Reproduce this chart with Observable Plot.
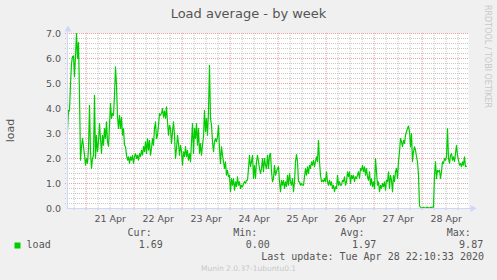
<!DOCTYPE html>
<html><head><meta charset="utf-8">
<script src="https://cdn.jsdelivr.net/npm/d3@7"></script>
<script src="https://cdn.jsdelivr.net/npm/@observablehq/plot@0.6"></script>
<style>
html,body{margin:0;padding:0;background:#f0f0f0;}
svg{display:block;}
</style>
</head><body>
<div id="chart"></div>
<script>
// ---- data ----
const startTime = Date.UTC(2020, 3, 20, 14, 40); // first sample
const stepMinutes = 30;
const loadValues = [
  3.08, 3.93, 3.9, 5.0, 5.8, 6.08, 6.1, 5.28, 6.08, 7.0,
  6.0, 6.65, 4.5, 1.93, 2.48, 2.8, 2.48, 2.13, 1.73, 2.0,
  1.8, 2.4, 4.13, 2.27, 1.6, 2.0, 2.13, 4.53, 2.0, 2.93,
  2.27, 2.67, 3.4, 2.8, 2.2, 2.93, 2.53, 3.2, 2.8, 3.47,
  2.67, 2.48, 3.33, 4.2, 3.6, 3.8, 3.73, 4.53, 5.67, 4.93,
  3.65, 3.2, 3.73, 3.2, 3.65, 2.93, 3.2, 2.53, 2.48, 2.13,
  1.93, 2.07, 1.8, 2.07, 1.93, 2.13, 1.8, 2.07, 2.2, 2.0,
  2.13, 1.93, 2.2, 2.07, 2.33, 2.13, 2.48, 2.27, 2.67, 2.2,
  2.8, 2.33, 2.73, 2.13, 2.4, 2.8, 2.53, 3.2, 3.47, 2.8,
  2.93, 3.33, 3.8, 3.73, 3.8, 4.0, 3.65, 3.9, 3.6, 4.07,
  3.47, 2.93, 3.33, 3.2, 2.6, 3.07, 3.47, 2.93, 2.0, 2.4,
  2.93, 2.6, 2.13, 2.53, 2.27, 1.73, 2.27, 2.07, 2.48, 2.07,
  2.33, 1.93, 2.2, 1.87, 2.67, 3.4, 2.2, 3.2, 2.8, 3.4,
  2.53, 3.2, 2.2, 2.6, 2.13, 2.53, 2.87, 3.93, 3.07, 3.6,
  2.93, 3.87, 5.73, 3.6, 3.33, 2.67, 2.27, 2.67, 2.8, 2.67,
  2.87, 3.33, 2.4, 1.8, 2.47, 2.13, 1.87, 1.6, 1.87, 1.33,
  1.53, 1.27, 1.33, 0.67, 1.2, 0.93, 1.2, 0.73, 1.07, 0.87,
  1.27, 0.93, 1.07, 0.8, 0.93, 0.87, 1.0, 1.07, 1.0, 1.13,
  1.13, 1.6, 2.13, 1.67, 1.87, 2.13, 1.2, 1.73, 1.2, 1.87,
  2.13, 1.87, 1.6, 1.4, 1.6, 2.0, 1.47, 2.0, 1.73, 1.6,
  2.13, 1.6, 2.13, 2.2, 1.47, 1.07, 1.2, 1.73, 1.33, 1.47,
  1.6, 1.67, 1.07, 0.67, 1.13, 0.93, 1.13, 0.8, 1.07, 0.87,
  1.33, 0.93, 1.4, 1.07, 0.93, 1.2, 0.67, 1.07, 1.87, 2.16,
  1.87, 1.07, 1.07, 0.93, 1.0, 0.93, 0.93, 1.27, 1.6, 1.33,
  1.67, 1.4, 1.73, 1.6, 1.87, 1.73, 1.93, 1.67, 1.87, 2.07,
  1.87, 2.73, 1.87, 1.33, 1.07, 1.13, 1.07, 1.2, 1.07, 1.47,
  1.07, 0.93, 1.13, 0.93, 1.07, 0.8, 0.93, 0.67, 0.87, 0.8,
  1.33, 0.93, 1.07, 0.93, 0.93, 1.13, 1.07, 1.27, 0.93, 1.07,
  1.47, 1.27, 1.47, 1.0, 1.33, 1.2, 1.33, 1.07, 1.27, 1.2,
  1.33, 1.47, 1.2, 1.6, 1.53, 1.73, 1.47, 1.67, 1.33, 1.6,
  1.27, 1.13, 1.47, 0.93, 1.2, 0.87, 1.07, 0.8, 2.0, 1.47,
  0.93, 1.07, 0.67, 0.93, 0.8, 1.0, 0.87, 1.07, 0.73, 1.13,
  1.07, 1.47, 0.8, 1.33, 1.13, 0.67, 1.33, 1.07, 1.47, 1.6,
  1.2, 1.87, 2.27, 2.8, 2.67, 2.47, 2.73, 2.6, 2.93, 3.07,
  3.2, 3.3, 3.07, 2.47, 3.0, 1.87, 2.27, 2.47, 2.33, 2.07,
  1.87, 1.33, 0.1, 0.05, 0.03, 0.02, 0.05, 0.03, 0.0, 0.04,
  0.05, 0.03, 0.02, 0.05, 0.04, 0.06, 0.05, 1.33, 1.87, 1.2,
  1.53, 1.47, 1.53, 1.2, 1.47, 1.87, 1.8, 2.0, 1.93, 2.07,
  3.2, 2.0, 1.8, 2.13, 2.2, 1.93, 2.07, 1.87, 2.2, 2.53,
  2.13, 1.93, 1.73, 1.8, 1.67, 1.87, 1.73, 2.07, 1.67, 1.69
];
const yTicks = [0, 1, 2, 3, 4, 5, 6, 7];
const dayLabels = ["21 Apr", "22 Apr", "23 Apr", "24 Apr", "25 Apr", "26 Apr", "27 Apr", "28 Apr"];
const seriesName = "load";
const legendHeaders = ["Cur:", "Min:", "Avg:", "Max:"];
const legendValues = ["1.69", "0.00", "1.97", "9.87"];
const titleText = "Load average - by week";
const yLabelText = "load";
const lastUpdateText = "Last update: Tue Apr 28 22:10:33 2020";
const watermarkText = "RRDTOOL / TOBI OETIKER";
const footerText = "Munin 2.0.37-1ubuntu0.1";

// ---- layout ----
const W = 497, H = 280, ML = 67, MR = 29, MT = 33, MB = 72;
const headerX = [127.1, 232.8, 339.9, 446.2];
const valueX = [138.2, 245.3, 351.6, 458.6];
const C = {
  canvas: "#ffffff", minor: "#c8c8c8", major: "#eba0a0", axis: "#cfd6f8",
  line: "#00cc00", font: "#555555", faint: "#c8c8c8"
};

const data = loadValues.map((v, i) => ({time: new Date(startTime + i * stepMinutes * 60000), load: v}));
const x0 = new Date(startTime);
const x1 = new Date(startTime + 401 * stepMinutes * 60000);
const minorY = d3.range(1, 35).map(i => i / 5).filter(v => Math.abs(v - Math.round(v)) > 1e-9);
const sixHours = d3.utcHour.every(6).range(x0, x1).filter(d => d.getUTCHours() !== 0);
const midnights = d3.utcDay.range(x0, x1);
const noons = midnights.map(d => d3.utcHour.offset(d, 12));

const at = (txt, px, py, opts = {}) => Plot.text([txt], {
  frameAnchor: "top-left", text: d => d, dx: px - ML, dy: py - MT,
  lineAnchor: "middle", textAnchor: "start", fill: C.font, ...opts
});
const mono = "DejaVu Sans Mono";
const sans = "DejaVu Sans";

const chart = Plot.plot({
  width: W, height: H,
  marginLeft: ML, marginRight: MR, marginTop: MT, marginBottom: MB,
  style: {background: "#f0f0f0", fontFamily: sans, overflow: "visible"},
  x: {type: "utc", domain: [x0, x1], axis: null},
  y: {domain: [0, 7], axis: null},
  marks: [
    Plot.frame({fill: C.canvas, stroke: "none"}),
    Plot.ruleY(minorY, {stroke: C.minor, strokeDasharray: "1,1", insetLeft: -2}),
    Plot.ruleX(sixHours, {stroke: C.minor, strokeDasharray: "1,1", insetBottom: -2}),
    Plot.ruleY(yTicks.filter(d => d > 0), {stroke: C.major, strokeDasharray: "1,1", insetLeft: -2}),
    Plot.ruleX(midnights, {stroke: C.major, strokeDasharray: "1,1", insetBottom: -2}),
    Plot.line(data, {x: "time", y: "load", stroke: C.line, strokeWidth: 1.2}),
    Plot.ruleY([0], {stroke: C.axis, insetRight: -3}),
    Plot.ruleX([x0], {stroke: C.axis, insetTop: -3}),
    Plot.dot([0], {x: () => x1, y: 0, symbol: "triangle", rotate: 90, r: 2.6, dx: 4, fill: C.axis, stroke: "none"}),
    Plot.dot([7], {x: () => x0, y: 7, symbol: "triangle", r: 2.6, dy: -4, dx: 0.5, fill: C.axis, stroke: "none"}),
    Plot.text(yTicks, {y: d => d, text: d => d.toFixed(1), frameAnchor: "left", textAnchor: "end",
      dx: -6.4, fontSize: 9.5, fill: C.font}),
    Plot.text(noons, {x: d => d, text: (d, i) => dayLabels[i], frameAnchor: "bottom", lineAnchor: "middle",
      dy: 10, fontSize: 9.5, fill: C.font}),
    at(titleText, 248, 13.5, {textAnchor: "middle", fontSize: 13}),
    at(yLabelText, 10, 130, {textAnchor: "middle", rotate: -90, fontSize: 11}),
    at(watermarkText, 487.5, 56, {textAnchor: "middle", rotate: 90, fontSize: 8, fill: C.faint}),
    Plot.dot([seriesName], {frameAnchor: "top-left", dx: 17 - ML, dy: 245 - MT, symbol: "square",
      r: 6 / Math.sqrt(Math.PI), fill: C.line, stroke: "none"}),
    at(seriesName, 26.1, 244.7, {fontFamily: mono, fontSize: 10}),
    ...legendHeaders.map((h, i) => at(h, headerX[i], 232.7, {fontFamily: mono, fontSize: 10})),
    ...legendValues.map((v, i) => at(v, valueX[i], 244.7, {fontFamily: mono, fontSize: 10})),
    at(lastUpdateText, 260.7, 256.7, {fontFamily: mono, fontSize: 10}),
    at(footerText, 248, 268.4, {textAnchor: "middle", fontSize: 7.5, fill: C.faint})
  ]
});
document.getElementById("chart").appendChild(chart);
</script>
</body></html>
